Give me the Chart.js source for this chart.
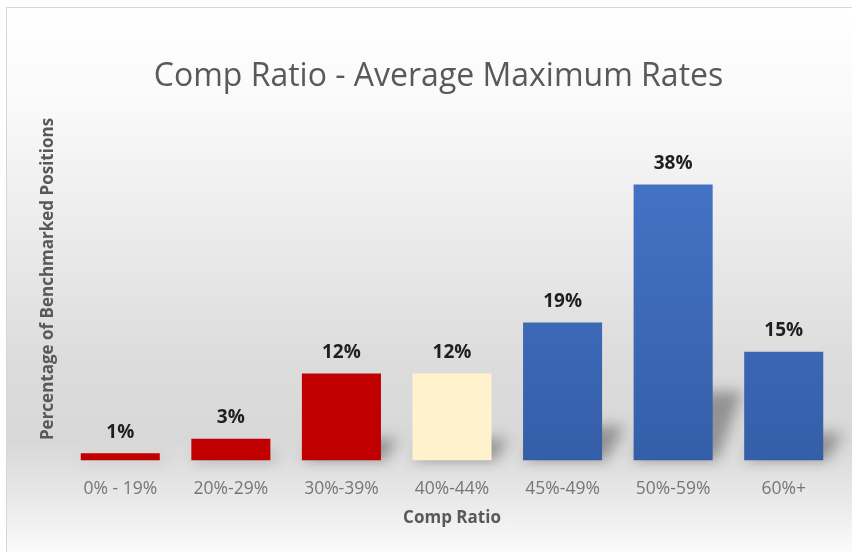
<!DOCTYPE html>
<html>
<head>
<meta charset="utf-8">
<script src="https://cdn.jsdelivr.net/npm/chart.js@4.4.1/dist/chart.umd.min.js"></script>
<style>
  html, body { margin: 0; padding: 0; background: #ffffff; }
  #frame {
    position: absolute; left: 6px; top: 7px; width: 870px; height: 570px;
    border: 1px solid #d6d6d6;
    background: linear-gradient(to bottom, #ffffff 0%, #fafafa 16%, #ececec 38%, #dcdcdc 62%, #d8d8d8 76%, #ececec 88%, #ffffff 97%);
  }
  #chart { position: absolute; left: 0; top: 0; }
</style>
</head>
<body>
<div id="frame"></div>
<canvas id="chart" width="852" height="552"></canvas>
<script>
const categorias = ['0% - 19%', '20%-29%', '30%-39%', '40%-44%', '45%-49%', '50%-59%', '60%+'];
const porcentajes = [1, 3, 12, 12, 19, 38, 15];
const tipoColor = ['rojo', 'rojo', 'rojo', 'crema', 'azul', 'azul', 'azul'];

// sombra en perspectiva detrás de cada barra
const sombraBarras = {
    id: 'sombraBarras',
    beforeDatasetsDraw(chart) {
        const ctx = chart.ctx;
        const meta = chart.getDatasetMeta(0);
        ctx.save();
        ctx.filter = 'blur(7px)';
        ctx.fillStyle = 'rgba(60,60,60,0.45)';
        meta.data.forEach((bar) => {
            const h = bar.base - bar.y;
            const half = bar.width / 2;
            const alto = h * 0.25;
            const dx = Math.min(30, h * 0.12 + 6);
            ctx.beginPath();
            ctx.moveTo(bar.x - half, bar.base);
            ctx.lineTo(bar.x + half + 4, bar.base);
            ctx.lineTo(bar.x + half + dx, bar.base - alto);
            ctx.lineTo(bar.x - half + dx, bar.base - alto);
            ctx.closePath();
            ctx.fill();
        });
        ctx.restore();
    }
};

// etiquetas con el valor encima de cada barra
const etiquetasValor = {
    id: 'etiquetasValor',
    afterDatasetsDraw(chart) {
        const ctx = chart.ctx;
        const meta = chart.getDatasetMeta(0);
        ctx.save();
        ctx.font = 'bold 19px "Open Sans"';
        ctx.fillStyle = '#1f1f1f';
        ctx.textAlign = 'center';
        ctx.textBaseline = 'middle';
        meta.data.forEach((bar, i) => {
            ctx.fillText(porcentajes[i] + '%', bar.x, bar.y - 21);
        });
        ctx.restore();
    }
};

const colorBarra = (context) => {
    const tipo = tipoColor[context.dataIndex];
    if (tipo === 'rojo') return '#c00000';
    if (tipo === 'crema') return '#fff2cc';
    const area = context.chart.chartArea;
    if (!area) return '#4472c4';
    const g = context.chart.ctx.createLinearGradient(0, area.top + 80, 0, area.bottom);
    g.addColorStop(0, '#4473c4');
    g.addColorStop(1, '#355ea8');
    return g;
};

const ctx = document.getElementById('chart').getContext('2d');

new Chart(ctx, {
    type: 'bar',
    data: {
        labels: categorias,
        datasets: [{
            label: 'Comp Ratio',
            data: porcentajes,
            backgroundColor: colorBarra,
            borderWidth: 0,
            categoryPercentage: 1,
            barPercentage: 0.715
        }]
    },
    options: {
        responsive: false,
        animation: false,
        layout: { padding: { left: 38, right: 13, top: 0, bottom: 24 } },
        plugins: {
            legend: { display: false },
            tooltip: { enabled: false },
            title: {
                display: true,
                text: 'Comp Ratio - Average Maximum Rates',
                color: '#595959',
                font: { family: 'Open Sans', size: 32, weight: 'normal' },
                padding: { top: 58, bottom: 1 }
            }
        },
        scales: {
            x: {
                grid: { display: false, drawTicks: false },
                border: { display: false },
                ticks: {
                    color: '#767676',
                    font: { family: 'Open Sans', size: 17.5 },
                    padding: 18,
                    maxRotation: 0
                },
                title: {
                    display: true,
                    text: 'Comp Ratio',
                    color: '#595959',
                    font: { family: 'Open Sans', size: 17, weight: 'bold' },
                    padding: { top: -10, bottom: 0 }
                }
            },
            y: {
                min: 0,
                max: 50,
                grid: { display: false, drawTicks: false },
                border: { display: false },
                ticks: { display: false },
                title: {
                    display: true,
                    text: 'Percentage of Benchmarked Positions',
                    color: '#595959',
                    font: { family: 'Open Sans', size: 17, weight: 'bold' },
                    padding: { top: 0, bottom: 6.6 }
                }
            }
        }
    },
    plugins: [sombraBarras, etiquetasValor]
});
</script>
</body>
</html>
